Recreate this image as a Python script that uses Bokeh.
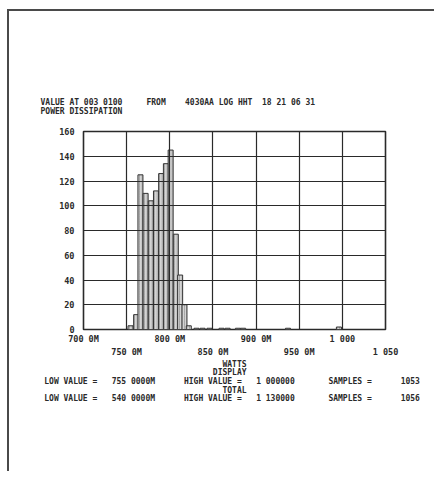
from bokeh.plotting import figure
from bokeh.models import Range1d, FixedTicker, LinearAxis, Title
from bokeh.embed import file_html
from bokeh.resources import INLINE

# ---- data ----
bin_centers = [754.5, 761, 766, 772, 778, 784, 790, 795.5, 801, 807, 812, 817, 822,
               831, 838, 846, 860, 867, 879, 885, 937, 996]
counts = [3, 12, 125, 110, 104, 112, 126, 134, 145, 77, 44, 20, 3,
          1, 1, 1, 1, 1, 1, 1, 1, 2]
bin_width = 5.8

y_ticks = [0, 20, 40, 60, 80, 100, 120, 140, 160]
x_ticks_row1 = [700, 800, 900, 1000]
x_labels_row1 = ["700 0M", "800 0M", "900 0M", "1 000"]
x_ticks_row2 = [750, 850, 950, 1050]
x_labels_row2 = ["750 0M", "850 0M", "950 0M", "1 050"]
x_grid = [700, 750, 800, 850, 900, 950, 1000, 1050]

title_parts = ["VALUE AT 003 0100", "FROM", "4030AA LOG HHT", "18 21 06", "31"]
title_line2 = "POWER DISSIPATION"
axis_title = "WATTS"
display_label = "DISPLAY"
total_label = "TOTAL"
display_parts = ["LOW VALUE =", "755 0000M", "HIGH VALUE =", "1 000000", "SAMPLES =", "1053"]
total_parts = ["LOW VALUE =", "540 0000M", "HIGH VALUE =", "1 130000", "SAMPLES =", "1056"]

FONT = "DejaVu Sans Mono"
FS = "8.5px"
TFS = "8px"
INK = "#2a2a2a"
EDGE = "#4a4a4a"
NB = "\u00a0"

# page layout (pixels)
FL, FT, FR, FB = 83, 131, 385, 329   # frame left/top/right/bottom
W, H = 434, 471

p = figure(width=W, height=H, output_backend="svg", toolbar_location=None,
           x_range=Range1d(700, 1050), y_range=Range1d(0, 160),
           min_border_left=FL, min_border_right=W - FR, min_border_top=FT,
           min_border_bottom=H - FB, x_axis_location=None, y_axis_location=None,
           background_fill_color="white", border_fill_color="white",
           border_fill_alpha=0)
p.outline_line_color = INK
p.outline_line_width = 1.6

# paper edge lines (CSS background behind the transparent border area)
p.styles = {
    "background": (f"linear-gradient({EDGE},{EDGE}) 7px 9px / 2px 100% no-repeat, "
                   f"linear-gradient({EDGE},{EDGE}) 7px 9px / 100% 2px no-repeat, white"),
}

# bars
p.vbar(x=bin_centers, top=counts, width=bin_width, bottom=0,
       fill_color="#d4d4d4", line_color="#333333", line_width=1.0,
       hatch_pattern="vertical_line", hatch_color="#8a8a8a", hatch_scale=2.5,
       hatch_weight=0.7)

# y axis
yax = LinearAxis(ticker=FixedTicker(ticks=y_ticks))
yax.axis_line_color = None
yax.major_tick_line_color = None
yax.minor_tick_line_color = None
yax.major_tick_out = 0
yax.major_label_standoff = 9
yax.major_label_text_font = FONT
yax.major_label_text_font_size = FS
yax.major_label_text_font_style = "bold"
yax.major_label_text_color = INK
p.add_layout(yax, "left")


def make_xaxis(ticks, labels, standoff):
    ax = LinearAxis(ticker=FixedTicker(ticks=ticks),
                    major_label_overrides={t: l for t, l in zip(ticks, labels)})
    ax.axis_line_color = None
    ax.major_tick_line_color = None
    ax.minor_tick_line_color = None
    ax.major_tick_out = 0
    ax.major_tick_in = 0
    ax.major_label_standoff = standoff
    ax.major_label_text_font = FONT
    ax.major_label_text_font_size = FS
    ax.major_label_text_font_style = "bold"
    ax.major_label_text_color = INK
    return ax


def row(parts, cols, total=None):
    """Place text parts at fixed monospace columns using non-breaking spaces."""
    s = ""
    for part, c in zip(parts, cols):
        s += NB * max(c - len(s), 1 if s else 0) + part.replace(" ", NB)
    if total:
        s += NB * (total - len(s))
    return s


LINE = 79
bottom_text = "\n".join([
    row([axis_title], [37], LINE),
    row([display_label], [35], LINE),
    row(display_parts, [0, 14, 29, 44, 59, 74], LINE),
    row([total_label], [37], LINE),
    row(total_parts, [0, 14, 29, 44, 59, 74], LINE),
])

ax1 = make_xaxis(x_ticks_row1, x_labels_row1, 4)
ax2 = make_xaxis(x_ticks_row2, x_labels_row2, 0)
ax2.axis_label = bottom_text
ax2.axis_label_standoff = 0
ax2.axis_label_text_font = FONT
ax2.axis_label_text_font_size = TFS
ax2.axis_label_text_font_style = "bold"
ax2.axis_label_text_color = INK
ax2.axis_label_text_line_height = 0.97
p.add_layout(ax1, "below")
p.add_layout(ax2, "below")

# grids drawn over the bars
p.xgrid.ticker = FixedTicker(ticks=x_grid)
p.ygrid.ticker = FixedTicker(ticks=y_ticks)
for g in (p.xgrid, p.ygrid):
    g.grid_line_color = INK
    g.grid_line_width = 1.2
    g.level = "overlay"

top_text = row(title_parts, [0, 22, 30, 46, 55]) + "\n" + title_line2.replace(" ", NB)
p.add_layout(Title(text=top_text, align="left", offset=40 - FL, standoff=28,
                   vertical_align="top", text_line_height=1.0,
                   text_font=FONT, text_font_size=TFS, text_font_style="bold",
                   text_color=INK), "above")

open("out.html", "w").write(file_html(p, INLINE))
